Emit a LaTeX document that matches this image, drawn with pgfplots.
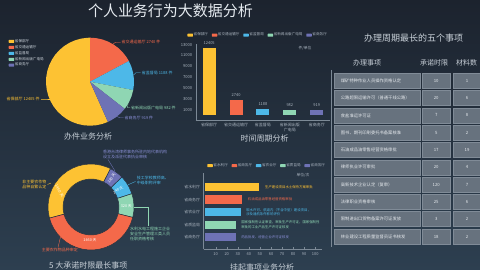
\documentclass[border=0pt]{standalone}
\usepackage{pgfplots}
\pgfplotsset{compat=1.18}
\usepackage{fontspec}
\setmainfont{Noto Sans CJK SC}
\definecolor{cY}{HTML}{FDC233}
\definecolor{cO}{HTML}{F4694A}
\definecolor{cB}{HTML}{4DB8E8}
\definecolor{cG}{HTML}{8FD6B3}
\definecolor{cP}{HTML}{6E72B5}
\definecolor{cPt}{HTML}{8A8FD6}
\definecolor{bgTop}{HTML}{1C232E}
\definecolor{bgBot}{HTML}{2D3F50}
\definecolor{ttl}{HTML}{E6EBF0}
\definecolor{txt}{HTML}{C8D0D8}
\definecolor{tickc}{HTML}{A9B3BE}
\definecolor{axl}{HTML}{7C8996}
\definecolor{cell}{HTML}{67727E}
\definecolor{cellb}{HTML}{808B97}
\definecolor{celltxt}{HTML}{E4E8EC}
\definecolor{sep}{HTML}{26323F}
\newcommand{\fs}[2]{\fontsize{#1}{#2}\selectfont}
\pgfplotsset{
  legrect/.style={every axis plot post/.append style={legend image code/.code={\fill[##1, draw=none, rounded corners=0.5pt] (0pt,-1.5pt) rectangle (5.5pt,1.5pt);}}},
}
\begin{document}
\begin{tikzpicture}[x=1pt,y=1pt]
\useasboundingbox (0pt,0pt) rectangle (480pt,270pt);
\clip (0pt,0pt) rectangle (480pt,270pt);
\shade[top color=bgTop, bottom color=bgBot] (0pt,0pt) rectangle (480pt,270pt);

% ---------- main title
\node[text=ttl, font=\fs{15}{17}] at (170.5,259) {个人业务行为大数据分析};

% ---------- pie
\begin{axis}[at={(90pt,188.3pt)}, anchor=center, scale only axis, width=105.6pt, height=105.6pt,
  xmin=-1.2,xmax=1.2,ymin=-1.2,ymax=1.2, hide axis, clip=false, legrect,
  legend style={at={(axis description cs:-0.3,0.93)}, anchor=north west, draw=none, fill=none,
    font=\fs{3.6}{4.2}, text=txt, legend cell align=left, nodes={inner sep=0.7pt},
    /tikz/every even column/.append style={column sep=1.5pt}}]
\addplot[fill=cY, draw=none, data cs=polar] coordinates {(0,0) (-66,1) (-74,1) (-82,1) (-90,1) (-98,1) (-106,1) (-114,1) (-122,1) (-130,1) (-138,1) (-146,1) (-154,1) (-162,1) (-170,1) (-178,1) (-186,1) (-194,1) (-202,1) (-210,1) (-218,1) (-226,1) (-234,1) (-242,1) (-250,1) (-258,1) (-266,1) (-270,1)};
\addlegendentry{省保部厅}
\addplot[fill=cO, draw=none, data cs=polar] coordinates {(0,0) (90,1) (82,1) (74,1) (66,1) (58,1) (50,1) (42,1) (34,1) (28,1)};
\addlegendentry{省交通运输厅}
\addplot[fill=cB, draw=none, data cs=polar] coordinates {(0,0) (28,1) (20,1) (12,1) (4,1) (-4,1) (-11,1)};
\addlegendentry{省监督局}
\addplot[fill=cG, draw=none, data cs=polar] coordinates {(0,0) (-11,1) (-19,1) (-27,1) (-35,1) (-38,1)};
\addlegendentry{省新闻出版广电局}
\addplot[fill=cP, draw=none, data cs=polar] coordinates {(0,0) (-38,1) (-46,1) (-54,1) (-62,1) (-66,1)};
\addlegendentry{省商务厅}
\end{axis}
% pie labels
\begin{scope}[line width=0.35pt]
\draw[cO] (112.5,225.5) -- (115.5,227.7) -- (120.5,227.7);
\node[anchor=west, inner sep=0.5pt, text=cO, font=\fs{4}{5}] at (121,227.7) {省交通运输厅 2740 件};
\draw[cB] (133.5,194.8) -- (136,197.3) -- (140.7,197.3);
\node[anchor=west, inner sep=0.5pt, text=cB, font=\fs{4}{5}] at (141.2,197.3) {省监督局 1188 件};
\draw[cG] (128.5,170.5) -- (127.5,162.3) -- (130,162.3);
\node[anchor=west, inner sep=0.5pt, text=cG, font=\fs{4}{5}] at (130.5,162.3) {省新闻出版广电局 982 件};
\draw[cP] (117,153.6) -- (119.5,152.3) -- (123.5,152.3);
\node[anchor=west, inner sep=0.5pt, text=cPt, font=\fs{4}{5}] at (124,152.3) {省商务厅 919 件};
\draw[cY] (41,171) -- (46,171) -- (49.5,171);
\node[anchor=west, inner sep=0.5pt, text=cY, font=\fs{4}{5}] at (6,171) {省保部厅 12405 件};
\end{scope}
\node[text=txt, font=\fs{8}{9}] at (88,133.3) {办件业务分析};

% ---------- donut
\begin{axis}[at={(91pt,63pt)}, anchor=center, scale only axis, width=103.2pt, height=103.2pt,
  xmin=-1.2,xmax=1.2,ymin=-1.2,ymax=1.2, hide axis, clip=false]
\addplot[fill=cY, draw=sep, line width=0.5pt, data cs=polar] coordinates {(-165,1) (-173,1) (-181,1) (-189,1) (-197,1) (-205,1) (-213,1) (-221,1) (-229,1) (-237,1) (-245,1) (-253,1) (-261,1) (-269,1) (-277,1) (-285,1) (-293,1) (-297,1) (-297,0.65) (-293,0.65) (-285,0.65) (-277,0.65) (-269,0.65) (-261,0.65) (-253,0.65) (-245,0.65) (-237,0.65) (-229,0.65) (-221,0.65) (-213,0.65) (-205,0.65) (-197,0.65) (-189,0.65) (-181,0.65) (-173,0.65) (-165,0.65)} -- cycle;
\addplot[fill=cP, draw=sep, line width=0.5pt, data cs=polar] coordinates {(63,1) (56,1) (50,1) (44,1) (44,0.65) (50,0.65) (56,0.65) (63,0.65)} -- cycle;
\addplot[fill=cB, draw=sep, line width=0.5pt, data cs=polar] coordinates {(44,1) (36,1) (28,1) (18,1) (18,0.65) (28,0.65) (36,0.65) (44,0.65)} -- cycle;
\addplot[fill=cG, draw=sep, line width=0.5pt, data cs=polar] coordinates {(18,1) (10,1) (2,1) (-6,1) (-14,1) (-14,0.65) (-6,0.65) (2,0.65) (10,0.65) (18,0.65)} -- cycle;
\addplot[fill=cO, draw=sep, line width=0.5pt, data cs=polar] coordinates {(-14,1) (-22,1) (-30,1) (-38,1) (-46,1) (-54,1) (-62,1) (-70,1) (-78,1) (-86,1) (-94,1) (-102,1) (-110,1) (-118,1) (-126,1) (-134,1) (-142,1) (-150,1) (-158,1) (-165,1) (-165,0.65) (-158,0.65) (-150,0.65) (-142,0.65) (-134,0.65) (-126,0.65) (-118,0.65) (-110,0.65) (-102,0.65) (-94,0.65) (-86,0.65) (-78,0.65) (-70,0.65) (-62,0.65) (-54,0.65) (-46,0.65) (-38,0.65) (-30,0.65) (-22,0.65) (-14,0.65)} -- cycle;
\end{axis}
% donut inner labels
\begin{scope}[text=white, font=\fs{3.8}{4.5}, inner sep=0pt]
\node[rotate=-60] at (59.3,79) {1460 天};
\node[rotate=54] at (111.7,91.7) {180 天};
\node[rotate=32] at (118.3,80) {240 天};
\node at (126.3,63.3) {320 天};
\node at (90,30) {1460 天};
\end{scope}
% donut outer labels
\begin{scope}[line width=0.35pt, font=\fs{4}{5}, inner sep=0.5pt]
\draw[cY] (47.5,85.5) -- (51,87);
\node[anchor=east, align=left, text=cY] at (47,85.5) {非主要农作物\\品种自繁认定};
\draw[cP] (115,99) -- (108,110.5);
\node[anchor=south west, align=left, text=cPt] at (102.5,110.5) {香港台湾律师事务所驻内地代表机构\\设立及派驻代表执业审核};
\draw[cB] (128,85.2) -- (135.5,88.5);
\node[anchor=north west, align=left, text=cB] at (136.2,95) {技工学校教师高、\\中级职称评审};
\draw[cG] (134,62.7) -- (148.3,62.7) -- (148.3,43.5);
\node[anchor=north west, align=left, text=cG] at (129.5,43.3) {水利水电工程施工企业\\安全生产管理三类人员\\任职资格考核};
\draw[cO] (60.5,33) -- (58,22.5);
\node[anchor=west, text=cO] at (41.2,20) {主要农作物品种审定};
\end{scope}
\node[text=txt, font=\fs{8}{9}] at (88.3,5) {5 大承诺时限最长事项};

% ---------- vertical bars
\begin{axis}[at={(195.7pt,150pt)}, anchor=south west, scale only axis, width=134.5pt, height=76.4pt,
  xmin=-0.5, xmax=4.5, ymin=-900, ymax=13200, legrect,
  axis x line*=bottom, axis y line*=left,
  axis line style={draw=axl, line width=0.4pt},
  xtick={0,1,2,3,4}, xticklabels={省保部厅,省交通运输厅,省监督局,{省新闻出版\\广电局},省商务厅},
  xticklabel style={font=\fs{4}{4.8}, text=tickc, align=center},
  ytick={1000,3000,...,13000}, scaled y ticks=false,
  yticklabel style={font=\fs{4.1}{4.8}, text=tickc},
  major tick length=0pt,
  /pgf/number format/assume math mode=true, /pgf/number format/1000 sep={},
  nodes near coords style={font=\fs{4}{4.8}, text=tickc},
  legend style={at={(axis description cs:-0.085,1.11)}, anchor=west, legend columns=5, draw=none, fill=none,
    font=\fs{3.6}{4.2}, text=tickc, nodes={inner sep=0.7pt},
    /tikz/every even column/.append style={column sep=3pt}}]
\addplot[ybar, bar width=13pt, bar shift=0pt, fill=cY, draw=none, nodes near coords] coordinates {(0,12405)};
\addlegendentry{省保部厅}
\addplot[ybar, bar width=13pt, bar shift=0pt, fill=cO, draw=none, nodes near coords] coordinates {(1,2740)};
\addlegendentry{省交通运输厅}
\addplot[ybar, bar width=13pt, bar shift=0pt, fill=cB, draw=none, nodes near coords] coordinates {(2,1188)};
\addlegendentry{省监督局}
\addplot[ybar, bar width=13pt, bar shift=0pt, fill=cG, draw=none, nodes near coords] coordinates {(3,982)};
\addlegendentry{省新闻出版广电局}
\addplot[ybar, bar width=13pt, bar shift=0pt, fill=cP, draw=none, nodes near coords] coordinates {(4,919)};
\addlegendentry{省商务厅}
\end{axis}
\node[text=tickc, font=\fs{3.8}{4.6}] at (305,221.7) {件/单位};
\node[text=txt, font=\fs{8}{9}] at (264.7,131.7) {时间周期分析};

% ---------- horizontal bars
\begin{axis}[at={(203.5pt,20.7pt)}, anchor=south west, scale only axis, width=118.4pt, height=76.1pt,
  xmin=-1, xmax=106, ymin=-0.964, ymax=5.1, legrect, clip=false,
  axis x line*=bottom, axis y line*=left,
  axis line style={draw=axl, line width=0.4pt},
  xtick={10,20,...,100}, ytick={0,1,2,3,4},
  yticklabels={省商务厅,省质监局,省农业厅,省商务厅,省水利厅},
  xticklabel style={font=\fs{4}{4.8}, text=tickc},
  yticklabel style={font=\fs{3.9}{4.6}, text=tickc},
  xtick style={draw=axl, line width=0.3pt}, tick align=inside, major tick length=2.2pt, ytick style={draw=none},
  /pgf/number format/assume math mode=true,
  legend style={at={(axis description cs:0.005,1.099)}, anchor=west, legend columns=5, draw=none, fill=none,
    font=\fs{3.6}{4.2}, text=tickc, nodes={inner sep=0.7pt},
    /tikz/every even column/.append style={column sep=3pt}}]
\addplot[xbar, bar width=8.3pt, bar shift=0pt, fill=cY, draw=none] coordinates {(49,4)};
\addlegendentry{省水利厅}
\addplot[xbar, bar width=8.3pt, bar shift=0pt, fill=cO, draw=none] coordinates {(34,3)};
\addlegendentry{省商务厅}
\addplot[xbar, bar width=8.3pt, bar shift=0pt, fill=cB, draw=none] coordinates {(33,2)};
\addlegendentry{省农业厅}
\addplot[xbar, bar width=8.3pt, bar shift=0pt, fill=cG, draw=none] coordinates {(28,1)};
\addlegendentry{省质监局}
\addplot[xbar, bar width=8.3pt, bar shift=0pt, fill=cP, draw=none] coordinates {(28,0)};
\addlegendentry{省商务厅}
\node[anchor=west, align=left, text=cY, font=\fs{3.4}{4.2}, inner sep=0pt] at (axis cs:54.5,4) {生产建设项目水土保持方案审批};
\node[anchor=west, align=left, text=cO, font=\fs{3.4}{4.2}, inner sep=0pt] at (axis cs:39,3) {石油成品油零售经营资格审批};
\node[anchor=west, align=left, text=cB, font=\fs{3.4}{4.2}, inner sep=0pt] at (axis cs:37.5,2) {取水许可、航道内（不含中型）建设项目，\\涉及通航条件影响评价};
\node[anchor=west, align=left, text=cG, font=\fs{3.4}{4.2}, inner sep=0pt] at (axis cs:33,1) {国家强制性认证审查，审批生产许可证，国家强制性\\审批的工业产品生产许可证核发};
\node[anchor=west, align=left, text=cPt, font=\fs{3.4}{4.2}, inner sep=0pt] at (axis cs:33,0) {药品批发、经营企业许可证核发};
\end{axis}
\node[text=tickc, font=\fs{3.8}{4.6}] at (303,95) {单位/次};
\node[text=txt, font=\fs{8}{9}] at (262,2.5) {挂起事项业务分析};

% ---------- table
\node[text=txt, font=\fs{9}{10}] at (413.7,231.7) {办理周期最长的五个事项};
\node[text=txt, font=\fs{7}{8}] at (367,206.7) {办理事项};
\node[text=txt, font=\fs{7}{8}] at (434,206.7) {承诺时限};
\node[text=txt, font=\fs{7}{8}] at (466.7,206.7) {材料数};
\draw[axl, line width=0.5pt] (331,200) -- (331,23);
\foreach \i/\a/\b/\c in {0/煤矿特种作业人员操作资格认定/10/1, 1/公路超限运输许可（普通干线公路）/20/6, 2/食盐准运许可证/7/8, 3/图书、期刊印刷委托书备案核准/5/2, 4/石油成品油零售经营资格审批/17/19, 5/律师执业许可审批/20/4, 6/高新技术企业认定（复审）/120/7, 7/法律职业资格审核/25/6, 8/限制进出口货物备案许可证发放/3/2, 9/林业建设工程质量监督员证书核发/18/2}{
  \filldraw[fill=cell, draw=cellb, line width=0.4pt] (334,{196.7-17.3*\i}) rectangle (420,{181.7-17.3*\i});
  \filldraw[fill=cell, draw=cellb, line width=0.4pt] (422.3,{196.7-17.3*\i}) rectangle (450,{181.7-17.3*\i});
  \filldraw[fill=cell, draw=cellb, line width=0.4pt] (452.7,{196.7-17.3*\i}) rectangle (485,{181.7-17.3*\i});
  \node[anchor=west, text=celltxt, font=\fs{4.3}{5}, inner sep=0pt] at (340.7,{189.2-17.3*\i}) {\a};
  \node[text=celltxt, font=\fs{4.3}{5}, inner sep=0pt] at (436.2,{189.2-17.3*\i}) {\b};
  \node[text=celltxt, font=\fs{4.3}{5}, inner sep=0pt] at (467,{189.2-17.3*\i}) {\c};
}
\end{tikzpicture}
\end{document}
